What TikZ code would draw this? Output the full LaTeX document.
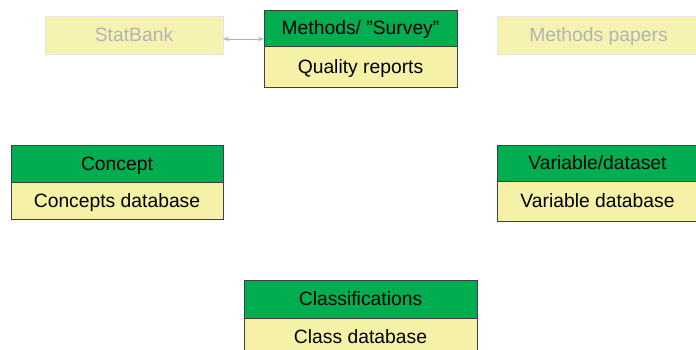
\documentclass[tikz,border=0pt]{standalone}
\usepackage{fontspec}
\setmainfont{Liberation Sans}
\usetikzlibrary{positioning,arrows.meta}

\definecolor{headgreen}{HTML}{00AD50}
\definecolor{dbyellow}{HTML}{F5F2A8}
\definecolor{fadeyellow}{HTML}{F6F3B2}
\definecolor{fadetext}{HTML}{B4B4B4}
\definecolor{boxline}{HTML}{404040}

\tikzstyle{head} = [draw=boxline, line width=0.9pt, fill=headgreen, outer sep=0pt, inner sep=0pt, text height=13.8pt, text depth=0pt, text centered]
\tikzstyle{db} = [draw=boxline, line width=0.9pt, fill=dbyellow, outer sep=0pt, inner sep=0pt, text height=13.8pt, text depth=0pt, text centered]
\tikzstyle{faded} = [draw=black!10, line width=0.6pt, fill=fadeyellow, text=fadetext, outer sep=0pt, inner sep=0pt, text height=13.8pt, text depth=0pt, minimum height=38pt]

\begin{document}
\begin{tikzpicture}[x=1pt, y=1pt, font=\fontsize{19.3}{23}\selectfont]
  \useasboundingbox (0,0) rectangle (696,-349);

  \node (statbank) at (134,-35) [faded, minimum width=178pt] {StatBank};
  \node (papers) at (598.5,-35) [faded, minimum width=203pt] {Methods papers};

  \node (survey) at (360.5,-28) [head, minimum width=193pt, minimum height=36pt] {Methods/ ”Survey”};
  \node (quality) [db, below=0pt of survey, minimum width=193pt, minimum height=41pt] {Quality reports};

  \node (concept) at (117,-163.5) [head, minimum width=212pt, minimum height=37pt] {Concept};
  \node (conceptdb) [db, below=0pt of concept, minimum width=212pt, minimum height=37pt] {Concepts database};

  \node (variable) at (597.5,-163) [head, minimum width=201pt, minimum height=36pt] {Variable/dataset};
  \node (variabledb) [db, below=0pt of variable, minimum width=201pt, minimum height=40pt] {Variable database};

  \node (class) at (360.5,-299) [head, minimum width=233pt, minimum height=38pt] {Classifications};
  \node (classdb) [db, below=0pt of class, minimum width=233pt, minimum height=38pt] {Class database};

  \draw [{Stealth[length=6pt,width=4.5pt]}-{Stealth[length=6pt,width=4.5pt]}, draw=black!30, fill=black!30, line width=0.9pt]
    ([yshift=-4pt]statbank.east) -- ([yshift=-11pt]survey.west);
\end{tikzpicture}
\end{document}
